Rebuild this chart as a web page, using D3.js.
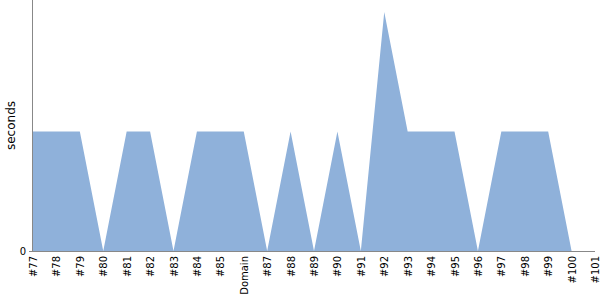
<!DOCTYPE html>
<html><head><meta charset="utf-8">
<script src="https://cdn.jsdelivr.net/npm/d3@7"></script>
<style>body{margin:0;background:#fff}svg{display:block}</style>
</head><body>
<svg id="c" width="600" height="300"></svg>
<script>
const categories = ["#77","#78","#79","#80","#81","#82","#83","#84","#85","Domain","#87","#88","#89","#90","#91","#92","#93","#94","#95","#96","#97","#98","#99","#100","#101"];
const seconds = [1,1,1,0,1,1,0,1,1,1,0,1,0,1,0,2,1,1,1,0,1,1,1,0,0];
const yTicks = [0];

(function(){
const svg = d3.select("#c");
const mL = 33, mR = 595, mT = 0, mB = 251;
const x = d3.scalePoint().domain(categories).range([mL, mR]);
const y = d3.scaleLinear().domain([0, 2.1]).range([mB, mT]);

const data = categories.map((c,i)=>({c, v: seconds[i]}));
svg.append("path").datum(data)
  .attr("fill", "#8fb1da")
  .attr("d", d3.area().x(d=>x(d.c)).y0(y(0)).y1(d=>y(d.v)));

const xg = svg.append("g").attr("transform", `translate(0,${mB})`)
  .call(d3.axisBottom(x).tickSize(0).tickPadding(0));
xg.select(".domain").attr("stroke", "#888").attr("d", `M${mL},0.5H${mR}`);
xg.selectAll("text")
  .attr("font-family", "DejaVu Sans").attr("font-size", 10).attr("fill", "#000")
  .attr("transform", "rotate(-90)")
  .attr("text-anchor", "end").attr("x", -5).attr("y", 0).attr("dy", "0.35em");

const yg = svg.append("g").attr("transform", `translate(${mL},0)`)
  .call(d3.axisLeft(y).tickValues(yTicks).tickFormat(d3.format("d")).tickSize(4).tickPadding(3));
yg.select(".domain").attr("stroke", "#888").attr("d", `M-0.5,${mT}V${mB}`);
yg.selectAll(".tick line").attr("stroke", "#888");
yg.selectAll("text").attr("font-family", "DejaVu Sans").attr("font-size", 10).attr("fill", "#000");

svg.append("text")
  .attr("transform", `translate(15,${(mT+mB)/2}) rotate(-90)`)
  .attr("text-anchor", "middle")
  .attr("font-family", "DejaVu Sans").attr("font-size", 12).attr("fill", "#000")
  .text("seconds");
})();
</script>
</body></html>
